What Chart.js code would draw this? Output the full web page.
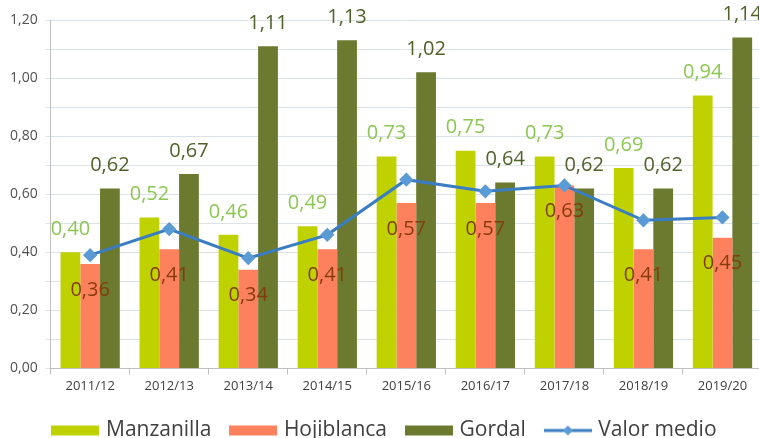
<!DOCTYPE html>
<html>
<head>
<meta charset="utf-8">
<script src="https://cdn.jsdelivr.net/npm/chart.js@4"></script>
<style>
  html, body { margin: 0; padding: 0; background: #fff; overflow: hidden; }
  #wrap { width: 770px; height: 438px; }
</style>
</head>
<body>
<div id="wrap"><canvas id="olivaChart"></canvas></div>
<script>
const campaigns = ["2011/12", "2012/13", "2013/14", "2014/15", "2015/16", "2016/17", "2017/18", "2018/19", "2019/20"];
const manzanilla = [0.40, 0.52, 0.46, 0.49, 0.73, 0.75, 0.73, 0.69, 0.94];
const hojiblanca = [0.36, 0.41, 0.34, 0.41, 0.57, 0.57, 0.63, 0.41, 0.45];
const gordal = [0.62, 0.67, 1.11, 1.13, 1.02, 0.64, 0.62, 0.62, 1.14];
const valorMedio = [0.39, 0.48, 0.38, 0.46, 0.65, 0.61, 0.63, 0.51, 0.52];

const FONT = "'Open Sans', sans-serif";
const fmt = v => v.toFixed(2).replace(".", ",");

// legend swatches, Excel style
function swatch(color, isLine) {
    const c = document.createElement("canvas");
    c.width = 48; c.height = 12;
    const g = c.getContext("2d");
    if (isLine) {
        g.strokeStyle = "#3a7dc2";
        g.lineWidth = 3;
        g.beginPath(); g.moveTo(0, 6); g.lineTo(48, 6); g.stroke();
        g.fillStyle = "#5b9bd5";
        g.beginPath(); g.moveTo(24, 1); g.lineTo(29, 6); g.lineTo(24, 11); g.lineTo(19, 6); g.closePath(); g.fill();
    } else {
        g.fillStyle = color;
        g.fillRect(0, 1, 48, 10);
    }
    return c;
}
const swatches = [swatch("#bfd200"), swatch("#fe815e"), swatch("#6b7a2f"), swatch(null, true)];

// value labels drawn from the bar elements
const barLabels = {
    id: "barLabels",
    afterDatasetsDraw(chart) {
        const ctx = chart.ctx;
        const styles = [
            { color: "#8cc751", dy: -23 },
            { color: "#843c0c", dy: 26 },
            { color: "#4f6228", dy: -23 }
        ];
        ctx.save();
        ctx.font = "20px " + FONT;
        ctx.textAlign = "center";
        ctx.textBaseline = "middle";
        styles.forEach((s, di) => {
            const meta = chart.getDatasetMeta(di);
            const vals = chart.data.datasets[di].data;
            meta.data.forEach((bar, i) => {
                ctx.fillStyle = s.color;
                ctx.fillText(fmt(vals[i]), bar.x, bar.y + s.dy);
            });
        });
        ctx.restore();
    }
};

new Chart(document.getElementById("olivaChart"), {
    type: "bar",
    data: {
        labels: campaigns,
        datasets: [
            { label: "Manzanilla", data: manzanilla, backgroundColor: "#bfd200", order: 2 },
            { label: "Hojiblanca", data: hojiblanca, backgroundColor: "#fe815e", order: 2 },
            { label: "Gordal", data: gordal, backgroundColor: "#6b7a2f", order: 2 },
            {
                type: "line",
                label: "Valor medio",
                data: valorMedio,
                borderColor: "#3a7dc2",
                borderWidth: 3,
                pointStyle: "rectRot",
                pointRadius: 5,
                pointBackgroundColor: "#5b9bd5",
                pointBorderColor: "#5b9bd5",
                tension: 0,
                order: 1
            }
        ]
    },
    options: {
        responsive: true,
        maintainAspectRatio: false,
        animation: false,
        datasets: {
            bar: { categoryPercentage: 0.75, barPercentage: 1.0 }
        },
        layout: { padding: { top: 20, right: 0, left: 2, bottom: -13 } },
        plugins: {
            legend: {
                position: "bottom",
                labels: {
                    usePointStyle: true,
                    pointStyleWidth: 40,
                    boxHeight: 12,
                    padding: 22,
                    color: "#404040",
                    font: { family: FONT, size: 21 },
                    sort: (a, b) => a.datasetIndex - b.datasetIndex,
                    generateLabels(chart) {
                        const items = Chart.defaults.plugins.legend.labels.generateLabels(chart);
                        items.forEach(it => { it.pointStyle = swatches[it.datasetIndex]; });
                        return items;
                    }
                }
            },
            tooltip: { enabled: false }
        },
        scales: {
            x: {
                grid: { display: true, drawOnChartArea: false, offset: true, tickLength: 6, color: "#bfbfbf" },
                border: { color: "#bfbfbf" },
                ticks: { color: "#404040", font: { family: FONT, size: 13 }, padding: 4 }
            },
            y: {
                min: 0,
                max: 1.2,
                grid: { color: "#dbe2e8", tickLength: 5 },
                border: { color: "#bfbfbf" },
                ticks: {
                    stepSize: 0.1,
                    color: "#505050",
                    font: { family: FONT, size: 14 },
                    padding: 8,
                    callback: v => (Math.round(v * 10) % 2 === 0 ? fmt(v) : "")
                }
            }
        }
    },
    plugins: [barLabels]
});
</script>
</body>
</html>
